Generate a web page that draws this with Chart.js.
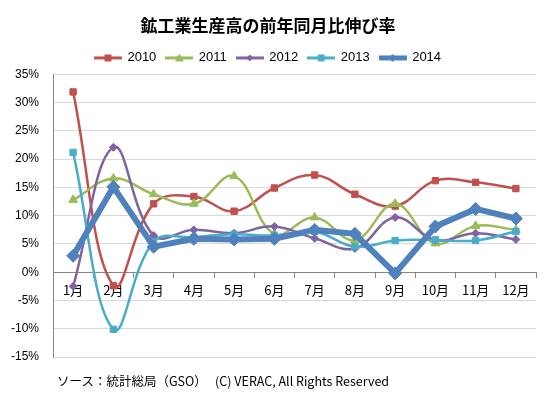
<!DOCTYPE html>
<html><head><meta charset="utf-8">
<script src="https://cdn.jsdelivr.net/npm/chart.js@4/dist/chart.umd.min.js"></script>
<style>
html,body{margin:0;padding:0;background:#fff;}
#wrap{position:relative;width:554px;height:399px;}
#footer{position:absolute;left:57px;top:372px;font:12.5px "Noto Sans CJK JP","Liberation Sans",sans-serif;color:#000;white-space:pre;line-height:18px;}
</style></head>
<body>
<div id="wrap"><canvas id="c" width="554" height="399"></canvas>
<div id="footer">ソース：統計総局（GSO）   (C) VERAC, All Rights Reserved</div></div>
<script>
const titleText = '鉱工業生産高の前年同月比伸び率';
const months = ['1月','2月','3月','4月','5月','6月','7月','8月','9月','10月','11月','12月'];
const seriesNames = ['2010','2011','2012','2013','2014'];
const d2010 = [31.9,-2.4,12.1,13.4,10.8,14.9,17.2,13.8,11.7,16.2,15.9,14.8];
const d2011 = [12.8,16.6,13.8,12.1,17.0,6.8,9.7,5.7,12.1,5.1,8.2,7.5];
const d2012 = [-2.5,22.1,6.5,7.5,6.9,8.1,6.0,4.2,9.7,5.7,6.9,5.8];
const d2013 = [21.2,-10.1,5.4,6.2,6.7,6.5,7.2,4.5,5.6,5.7,5.6,7.2];
const d2014 = [2.9,15.1,4.5,5.9,5.8,5.9,7.5,6.8,-0.2,8.1,11.2,9.5];
const yMin = -15, yMax = 35, yStep = 5;

const colors = ['#C0504D','#9BBB59','#8064A2','#4BACC6','#4F81BD'];
const styles = ['rect','triangle','rectRot','rect','rectRot'];
const radii = [4.5,5,4,4.5,6.5];
const widths = [2.5,2.5,2.5,2.5,6];
const tensions = [0.4,0.4,0.4,0.4,0];
const values = [d2010,d2011,d2012,d2013,d2014];

function legendIcon(i){
  const cv = document.createElement('canvas');
  cv.width = 28; cv.height = 12;
  const g = cv.getContext('2d');
  g.strokeStyle = colors[i]; g.lineWidth = i===4?5:3;
  g.beginPath(); g.moveTo(0,6); g.lineTo(28,6); g.stroke();
  g.fillStyle = colors[i];
  const r = i===4?4:3.5;
  g.beginPath();
  if (styles[i]==='rect'){ g.rect(14-r,6-r,2*r,2*r); }
  else if (styles[i]==='triangle'){ g.moveTo(14,6-r-1); g.lineTo(14+r+1,6+r); g.lineTo(14-r-1,6+r); g.closePath(); }
  else { g.moveTo(14,6-r); g.lineTo(14+r,6); g.lineTo(14,6+r); g.lineTo(14-r,6); g.closePath(); }
  g.fill();
  return cv;
}

const datasets = seriesNames.map((n,i)=>({
  label: n,
  data: values[i],
  borderColor: colors[i],
  backgroundColor: colors[i],
  borderWidth: widths[i],
  pointStyle: styles[i],
  pointRadius: radii[i],
  pointBackgroundColor: colors[i],
  pointBorderColor: colors[i],
  pointBorderWidth: 1,
  tension: tensions[i],
  fill: false,
  order: 4 - i,
  icon: legendIcon(i)
}));

new Chart(document.getElementById('c'), {
  type: 'line',
  data: { labels: months, datasets },
  options: {
    responsive: false,
    animation: false,
    layout: { padding: { left: 0, right: 18, top: 7, bottom: 42 } },
    plugins: {
      tooltip: { enabled: false },
      title: {
        display: true, text: titleText, color: '#000',
        font: { family: '"Noto Sans CJK JP", sans-serif', size: 17, weight: 'bold' },
        padding: { top: 8, bottom: 6 }
      },
      legend: {
        display: true,
        labels: {
          color: '#000',
          font: { family: '"Liberation Sans", Arial, sans-serif', size: 13 },
          usePointStyle: true,
          pointStyleWidth: 26,
          padding: 10,
          sort: (a,b) => a.datasetIndex - b.datasetIndex,
          generateLabels: (chart) => chart.data.datasets.map((ds,i)=>({
            text: ds.label, pointStyle: ds.icon, datasetIndex: i,
            fillStyle: ds.borderColor, strokeStyle: ds.borderColor, lineWidth: 0, hidden: false,
            fontColor: '#000'
          }))
        }
      }
    },
    scales: {
      x: {
        position: { y: 0 },
        offset: true,
        grid: { display: true, drawOnChartArea: false, drawTicks: true, tickLength: 5, offset: true, color: '#868686' },
        border: { display: true, color: '#868686', width: 1 },
        ticks: { color: '#000', padding: 5, maxRotation: 0, autoSkip: false,
          font: { family: '"Noto Sans CJK JP", sans-serif', size: 13 } }
      },
      y: {
        min: yMin, max: yMax,
        afterFit: (s) => { s.width = 53; },
        grid: { color: '#D9D9D9', drawTicks: false, lineWidth: 1 },
        border: { display: true, color: '#868686', width: 1 },
        ticks: { stepSize: yStep, padding: 14, color: '#000',
          font: { family: '"Liberation Sans", Arial, sans-serif', size: 12 },
          callback: (v) => v + '%' }
      }
    }
  }
});
</script>
</body></html>
